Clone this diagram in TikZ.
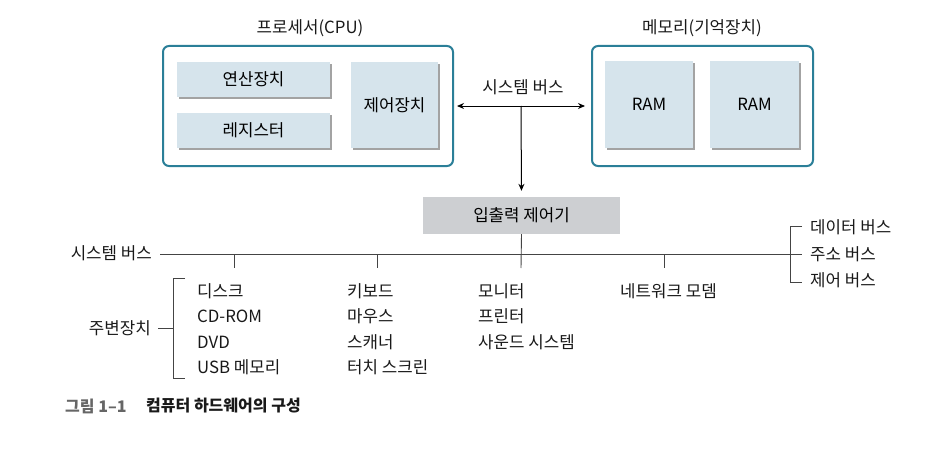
\documentclass[tikz,border=0pt]{standalone}
\usepackage{fontspec}
\setmainfont{Noto Sans CJK KR}
\usetikzlibrary{shadows,arrows.meta}
\definecolor{teal}{HTML}{2B7F98}
\definecolor{boxfill}{HTML}{D6E4EC}
\definecolor{iofill}{HTML}{CDCFD2}
\definecolor{linegray}{HTML}{444444}
\newcommand{\bodyfont}{\fontsize{16.8}{20}\selectfont}
\begin{document}
\begin{tikzpicture}[x=1pt,y=-1pt,
  txt/.style={font=\bodyfont, inner sep=0pt, text=black!90},
  group/.style={draw=teal, line width=2pt, rounded corners=6pt, fill=white},
  unit/.style={fill=boxfill, draw=none, inner sep=0pt,
    drop shadow={shadow xshift=1.5pt, shadow yshift=-2pt, fill=black!45, opacity=0.8},
    font=\bodyfont},
  ln/.style={draw=linegray, line width=0.9pt},
  arr/.style={draw=black, line width=1pt, -{Stealth[length=7pt,width=6pt]}}
]
\useasboundingbox (0,0) rectangle (944,452);
% processor
\node[group, minimum width=290pt, minimum height=120pt] (cpu) at (308,106) {};
\node[txt] (cpulbl) at (310,28) {프로세서(CPU)};
\node[unit, minimum width=153pt, minimum height=35pt] (alu) at (253.5,79.5) {연산장치};
\node[unit, minimum width=153pt, minimum height=35pt] (reg) at (253.5,130.5) {레지스터};
\node[unit, minimum width=87pt, minimum height=86pt] (cu) at (394.5,105) {제어장치};
% memory
\node[group, minimum width=221pt, minimum height=120pt] (mem) at (702.5,106) {};
\node[txt] (memlbl) at (702,28) {메모리(기억장치)};
\node[unit, minimum width=88pt, minimum height=87pt] (ram1) at (649,104.5) {RAM};
\node[unit, minimum width=89pt, minimum height=87pt] (ram2) at (754.5,104.5) {RAM};
% system bus arrows
\node[txt] (buslbl) at (523,87) {시스템 버스};
\draw[arr, {Stealth[length=7pt,width=6pt]}-{Stealth[length=7pt,width=6pt]}, shorten <=3pt, shorten >=6pt] (cpu.east) -- (mem.west);
\coordinate (busT) at (521,106);
\node[fill=iofill, inner sep=0pt, minimum width=197pt, minimum height=37pt, font=\bodyfont] (io) at (521.5,215.5) {입출력 제어기};
\draw[arr, shorten >=6pt] (busT) -- (io.north);
% system bus line
\node[txt, anchor=east] (sysbus) at (152,253) {시스템 버스};
\coordinate (busL) at (160,254);
\coordinate (busR) at (802,254);
\draw[ln] (busL) -- (busR);
\coordinate (ioB) at (521,268);
\draw[ln] (io.south) -- (ioB);
\coordinate (t1a) at (234,254); \coordinate (t1b) at (234,268);
\coordinate (t2a) at (377,254); \coordinate (t2b) at (377,268);
\coordinate (t4a) at (664,254); \coordinate (t4b) at (664,268);
\draw[ln] (t1a) -- (t1b);
\draw[ln] (t2a) -- (t2b);
\draw[ln] (t4a) -- (t4b);
% bus types bracket
\coordinate (bT) at (802,226); \coordinate (bB) at (802,282);
\draw[ln] (bT) -- (790,226) -- (790,282) -- (bB);
\node[txt, anchor=west] (dbus) at (810,227) {데이터 버스};
\node[txt, anchor=west] (abus) at (810,254) {주소 버스};
\node[txt, anchor=west] (cbus) at (810,280) {제어 버스};
% peripherals bracket
\coordinate (pT) at (185,278); \coordinate (pB) at (185,378);
\coordinate (pM) at (158,328); \coordinate (pMr) at (173,328);
\draw[ln] (pT) -- (173,278) -- (173,378) -- (pB);
\draw[ln] (pM) -- (pMr);
\node[txt, anchor=east] (perlbl) at (151,328) {주변장치};
% column 1
\node[txt, anchor=west] (c1a) at (197,291) {디스크};
\node[txt, anchor=west] (c1b) at (197,316) {CD-ROM};
\node[txt, anchor=west] (c1c) at (197,342) {DVD};
\node[txt, anchor=west] (c1d) at (197,367) {USB 메모리};
% column 2
\node[txt, anchor=west] (c2a) at (347,291) {키보드};
\node[txt, anchor=west] (c2b) at (347,316) {마우스};
\node[txt, anchor=west] (c2c) at (347,342) {스캐너};
\node[txt, anchor=west] (c2d) at (347,367) {터치 스크린};
% column 3
\node[txt, anchor=west] (c3a) at (478,291) {모니터};
\node[txt, anchor=west] (c3b) at (478,316) {프린터};
\node[txt, anchor=west] (c3c) at (478,342) {사운드 시스템};
% column 4
\node[txt, anchor=west] (c4a) at (620,291) {네트워크 모뎀};
% caption
\node[anchor=west, inner sep=0pt, font=\fontsize{16}{18}\selectfont\bfseries, text=black!60] (capnum) at (65,406) {그림 1–1};
\node[anchor=west, inner sep=0pt, font=\fontsize{16}{18}\selectfont\bfseries, text=black!90] (captxt) at (146,406) {컴퓨터 하드웨어의 구성};
\end{tikzpicture}
\end{document}
